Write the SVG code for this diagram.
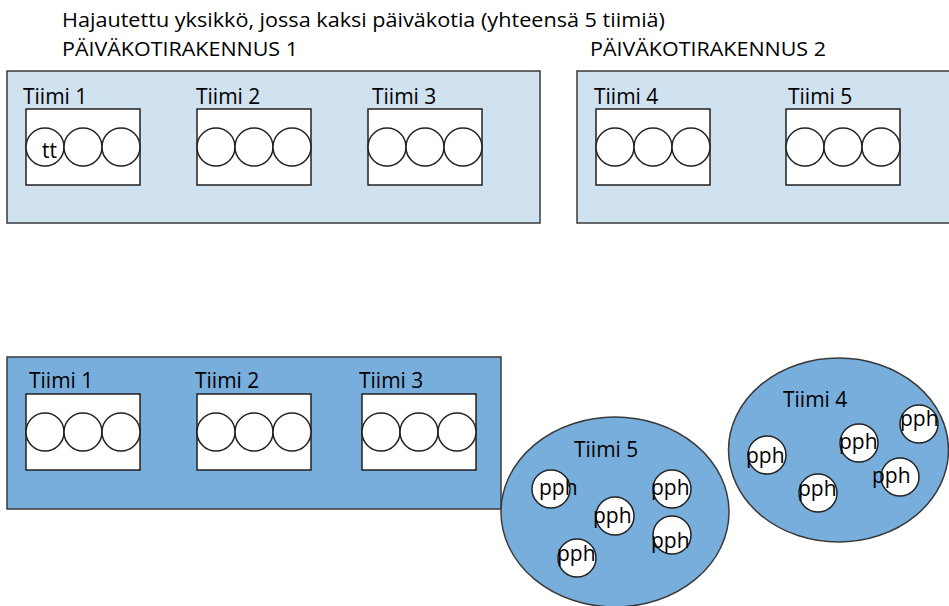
<svg xmlns="http://www.w3.org/2000/svg" width="949" height="606" viewBox="0 0 949 606">
  <style>
    text { font-family: "Open Sans", "Liberation Sans", sans-serif; fill: #000; }
    .lbl { font-size: 21px; }
    .head { font-size: 19.5px; }
    .bldg-light { fill: #d0e1ef; stroke: #3a3a3a; stroke-width: 1.5; }
    .bldg-dark { fill: #78aedc; stroke: #3a3a3a; stroke-width: 1.5; }
    .team { fill: #ffffff; stroke: #222; stroke-width: 1.5; }
    .seat { fill: #ffffff; stroke: #222; stroke-width: 1.5; }
  </style>
  <defs>
    <!-- team box: white rect with three person circles -->
    <g id="teambox">
      <rect class="team" x="0" y="0" width="114" height="76"/>
      <circle class="seat" cx="19" cy="38" r="19"/>
      <circle class="seat" cx="57" cy="38" r="19"/>
      <circle class="seat" cx="95" cy="38" r="19"/>
    </g>
    <circle id="pph" class="seat" r="19"/>
  </defs>

  <!-- headings -->
  <text class="head" x="62" y="27" textLength="603" lengthAdjust="spacingAndGlyphs">Hajautettu yksikkö, jossa kaksi päiväkotia (yhteensä 5 tiimiä)</text>
  <text class="head" x="62" y="56" textLength="236" lengthAdjust="spacingAndGlyphs">PÄIVÄKOTIRAKENNUS 1</text>
  <text class="head" x="590" y="56" textLength="236" lengthAdjust="spacingAndGlyphs">PÄIVÄKOTIRAKENNUS 2</text>

  <!-- building 1 (top) -->
  <g id="building1">
    <rect class="bldg-light" x="7" y="71" width="533" height="152"/>
    <g id="b1-team1">
      <text class="lbl" x="23" y="104">Tiimi 1</text>
      <use href="#teambox" x="26" y="109"/>
      <text class="lbl" x="42" y="158">tt</text>
    </g>
    <g id="b1-team2">
      <text class="lbl" x="196" y="104">Tiimi 2</text>
      <use href="#teambox" x="197" y="109"/>
    </g>
    <g id="b1-team3">
      <text class="lbl" x="372" y="104">Tiimi 3</text>
      <use href="#teambox" x="368" y="109"/>
    </g>
  </g>

  <!-- building 2 (top) -->
  <g id="building2">
    <rect class="bldg-light" x="577" y="71" width="380" height="152"/>
    <g id="b2-team4">
      <text class="lbl" x="594" y="104">Tiimi 4</text>
      <use href="#teambox" x="596" y="109"/>
    </g>
    <g id="b2-team5">
      <text class="lbl" x="788" y="104">Tiimi 5</text>
      <use href="#teambox" x="786" y="109"/>
    </g>
  </g>

  <!-- lower unit -->
  <g id="unit">
    <rect class="bldg-dark" x="7" y="357" width="494" height="152"/>
    <g id="u-team1">
      <text class="lbl" x="29" y="388">Tiimi 1</text>
      <use href="#teambox" x="26" y="394"/>
    </g>
    <g id="u-team2">
      <text class="lbl" x="195" y="388">Tiimi 2</text>
      <use href="#teambox" x="197" y="394"/>
    </g>
    <g id="u-team3">
      <text class="lbl" x="359" y="388">Tiimi 3</text>
      <use href="#teambox" x="362" y="394"/>
    </g>
  </g>

  <!-- team 5 ellipse -->
  <g id="team5">
    <ellipse class="bldg-dark" cx="615" cy="512" rx="114" ry="95"/>
    <text class="lbl" x="574" y="457">Tiimi 5</text>
    <use href="#pph" x="551" y="489"/>
    <use href="#pph" x="672" y="489"/>
    <use href="#pph" x="615" y="516"/>
    <use href="#pph" x="672" y="535"/>
    <use href="#pph" x="577" y="558"/>
    <text class="lbl" x="539" y="495">pph</text>
    <text class="lbl" x="651" y="495">pph</text>
    <text class="lbl" x="593" y="523">pph</text>
    <text class="lbl" x="651" y="548">pph</text>
    <text class="lbl" x="557" y="561">pph</text>
  </g>

  <!-- team 4 ellipse -->
  <g id="team4">
    <ellipse class="bldg-dark" cx="838.5" cy="450" rx="110" ry="92"/>
    <text class="lbl" x="783" y="407">Tiimi 4</text>
    <use href="#pph" x="919" y="424"/>
    <use href="#pph" x="859" y="443"/>
    <use href="#pph" x="767" y="455"/>
    <use href="#pph" x="818" y="493"/>
    <use href="#pph" x="900" y="477"/>
    <text class="lbl" x="900" y="426">pph</text>
    <text class="lbl" x="839" y="449">pph</text>
    <text class="lbl" x="746" y="463">pph</text>
    <text class="lbl" x="798" y="496">pph</text>
    <text class="lbl" x="872" y="483">pph</text>
  </g>
</svg>
